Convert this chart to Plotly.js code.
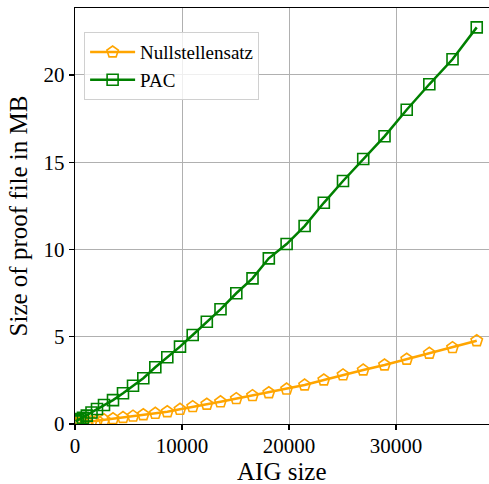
<!DOCTYPE html>
<html>
<head>
<meta charset="utf-8">
<script src="https://cdn.plot.ly/plotly-3.0.1.min.js"></script>
<style>html,body{margin:0;padding:0;background:#fff;}#chart{width:489px;height:484px;}</style>
</head>
<body>
<div id="chart"></div>
<script>
// AIG sizes (shared by both series)
const aigSize = [56, 140, 280, 467, 748, 1103, 1542, 2056, 2710, 3551, 4486, 5421, 6383, 7505, 8626, 9813,
  11000, 12318, 13598, 15075, 16589, 18113, 19776, 21458, 23253, 25047, 26935, 28926, 31001, 33113, 35281, 37543];
// Proof file sizes in MB
const nullstellensatzMB = [0.02, 0.03, 0.04, 0.06, 0.08, 0.11, 0.15, 0.19, 0.24, 0.30, 0.37, 0.45, 0.53, 0.61, 0.70, 0.84,
  0.99, 1.13, 1.27, 1.45, 1.62, 1.79, 2.00, 2.23, 2.52, 2.81, 3.09, 3.38, 3.71, 4.05, 4.37, 4.77];
const pacMB = [0.15, 0.18, 0.22, 0.28, 0.36, 0.48, 0.66, 0.86, 1.09, 1.37, 1.76, 2.19, 2.62, 3.25, 3.82, 4.43,
  5.10, 5.86, 6.57, 7.49, 8.34, 9.49, 10.31, 11.34, 12.67, 13.92, 15.18, 16.48, 18.00, 19.46, 20.89, 22.72];
const seriesNames = ["Nullstellensatz", "PAC"];
const xTitle = "AIG size";
const yTitle = "Size of proof file in MB";
const xTickVals = [0, 10000, 20000, 30000];
const xTickText = ["0", "10000", "20000", "30000"];
const yTickVals = [0, 5, 10, 15, 20];
const yTickText = ["0", "5", "10", "15", "20"];

const font = "Liberation Serif";

const traces = [
  {x: aigSize, y: nullstellensatzMB, name: seriesNames[0], type: "scatter", mode: "lines+markers",
   line: {color: "#ffa500", width: 2.5},
   marker: {symbol: "pentagon-open", size: 12, color: "#ffa500", line: {width: 1.6, color: "#ffa500"}}},
  {x: aigSize, y: pacMB, name: seriesNames[1], type: "scatter", mode: "lines+markers",
   line: {color: "#008000", width: 2.5},
   marker: {symbol: "square-open", size: 11, color: "#008000", line: {width: 1.6, color: "#008000"}}}
];

const layout = {
  width: 489, height: 484,
  margin: {l: 75, r: 0, t: 8, b: 60, pad: 0},
  paper_bgcolor: "#fff", plot_bgcolor: "#fff",
  font: {family: font, color: "#000", size: 21},
  showlegend: true,
  legend: {x: 0.022, y: 0.942, xanchor: "left", yanchor: "top",
    bgcolor: "rgba(255,255,255,0.8)", bordercolor: "#d0d0d0", borderwidth: 1,
    itemwidth: 45,
    font: {family: font, size: 19, color: "#000"}, tracegroupgap: 0},
  xaxis: {range: [0, 38690], tickvals: xTickVals, ticktext: xTickText,
    showgrid: true, gridcolor: "#b0b0b0", gridwidth: 1, zeroline: false,
    showline: true, linecolor: "#000", linewidth: 1.3, mirror: true,
    ticks: "outside", ticklen: 5, tickwidth: 1.3, tickcolor: "#000", ticklabelstandoff: -3,
    tickfont: {family: font, size: 21, color: "#000"}},
  yaxis: {range: [0, 23.83], tickvals: yTickVals, ticktext: yTickText,
    showgrid: true, gridcolor: "#b0b0b0", gridwidth: 1, zeroline: false,
    showline: true, linecolor: "#000", linewidth: 1.3, mirror: false,
    ticks: "outside", ticklen: 5, tickwidth: 1.3, tickcolor: "#000",
    tickfont: {family: font, size: 21, color: "#000"},
    title: {text: yTitle, font: {family: font, size: 25}, standoff: 8}},
  annotations: [
    {text: xTitle, xref: "paper", yref: "paper", x: 0.5, y: -0.113, xanchor: "center", yanchor: "middle",
     showarrow: false, font: {family: font, size: 25, color: "#000"}}
  ]
};

Plotly.newPlot("chart", traces, layout, {displayModeBar: false, staticPlot: true});
</script>
</body>
</html>
